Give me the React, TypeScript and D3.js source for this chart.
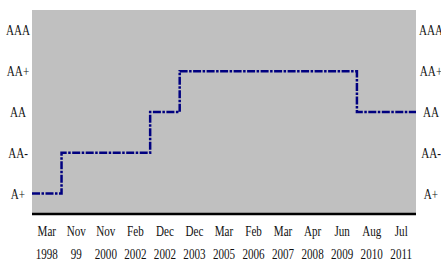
import React, { useEffect, useRef } from 'react';
import * as d3 from 'd3';

const ratings = ['A+', 'AA-', 'AA', 'AA+', 'AAA'];
const monthLabels = ['Mar', 'Nov', 'Nov', 'Feb', 'Dec', 'Dec', 'Mar', 'Feb', 'Mar', 'Apr', 'Jun', 'Aug', 'Jul'];
const yearLabels = ['1998', '99', '2000', '2002', '2002', '2003', '2005', '2006', '2007', '2008', '2009', '2010', '2011'];
const ratingHistory = ['A+', 'AA-', 'AA-', 'AA-', 'AA', 'AA+', 'AA+', 'AA+', 'AA+', 'AA+', 'AA+', 'AA', 'AA'];

const width = 441;
const height = 264;
const margin = { top: 10, right: 25, bottom: 50, left: 32 };

export default function App() {
  const ref = useRef<SVGSVGElement>(null);

  useEffect(() => {
    const svg = d3.select(ref.current);
    svg.selectAll('*').remove();

    const x0 = margin.left;
    const x1 = width - margin.right;
    const y0 = height - margin.bottom;

    const xScale = d3
      .scaleBand<number>()
      .domain(d3.range(monthLabels.length))
      .range([x0, x1])
      .padding(0);

    const yScale = d3
      .scaleLinear()
      .domain([-0.5, ratings.length - 0.5])
      .range([y0, margin.top]);

    svg.append('rect')
      .attr('x', x0)
      .attr('y', margin.top)
      .attr('width', x1 - x0)
      .attr('height', y0 - margin.top)
      .attr('fill', '#c0c0c0');

    const pts: [number, number][] = ratingHistory.map((r, i) => [xScale(i)!, yScale(ratings.indexOf(r))]);
    const last = ratingHistory.length - 1;
    pts.push([xScale(last)! + xScale.bandwidth(), yScale(ratings.indexOf(ratingHistory[last]))]);

    const line = d3.line().curve(d3.curveStepAfter);

    svg.append('path')
      .attr('d', line(pts))
      .attr('fill', 'none')
      .attr('stroke', '#000080')
      .attr('stroke-width', 2.5)
      .attr('stroke-dasharray', '8,1.5,2.5,1.5');

    svg.append('line')
      .attr('x1', x0)
      .attr('x2', x1)
      .attr('y1', y0)
      .attr('y2', y0)
      .attr('stroke', '#000')
      .attr('stroke-width', 2.5);

    const font = '"Liberation Serif", "Times New Roman", serif';

    const addText = (x: number, y: number, t: string) => {
      svg.append('text')
        .attr('transform', `translate(${x},${y}) scale(0.74,1)`)
        .attr('text-anchor', 'middle')
        .attr('font-family', font)
        .attr('font-size', 15)
        .attr('fill', '#111')
        .text(t);
    };

    ratings.forEach((r, i) => {
      const y = yScale(i) + 5;
      addText(18, y, r);
      addText(431, y, r);
    });

    monthLabels.forEach((m, i) => {
      const cx = xScale(i)! + xScale.bandwidth() / 2;
      addText(cx, 236, m);
      addText(cx, 259, yearLabels[i]);
    });
  }, []);

  return (
    <svg
      ref={ref}
      width={width}
      height={height}
      style={{ position: 'absolute', left: 0, top: 0, background: '#fff' }}
    />
  );
}
